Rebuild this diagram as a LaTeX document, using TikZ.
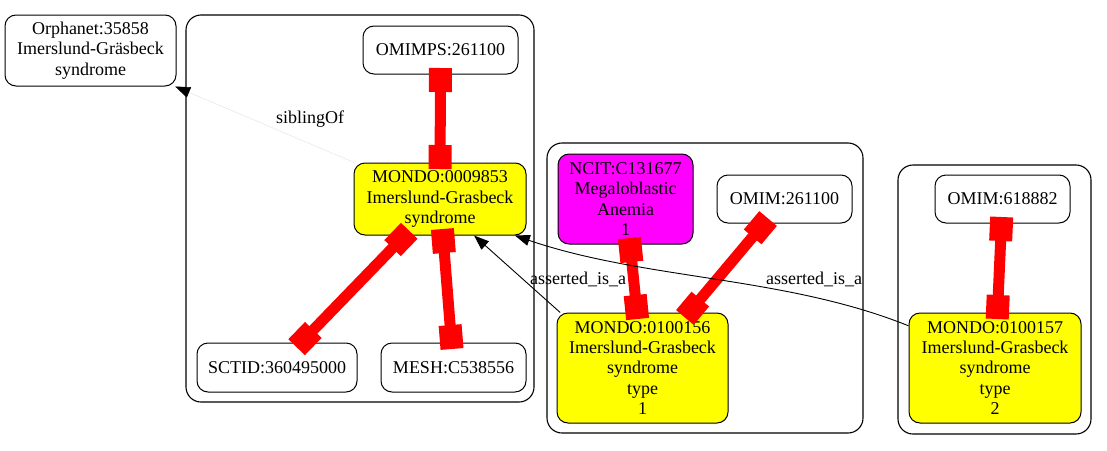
\documentclass[tikz,border=0pt]{standalone}
\usepackage{fontspec}
\setmainfont{Liberation Serif}
\usetikzlibrary{arrows.meta}
\definecolor{gvyellow}{RGB}{255,255,0}
\definecolor{gvmagenta}{RGB}{255,0,255}
\definecolor{gvred}{RGB}{255,0,0}
\newcommand\gvfont{\fontsize{18}{20.3}\selectfont}
\begin{document}
\begin{tikzpicture}[x=1pt,y=-1pt,
  gnode/.style={draw=black, line width=1pt, rounded corners=11pt, align=center,
    inner sep=0pt, font=\gvfont, fill=white},
  yel/.style={gnode, fill=gvyellow},
  mag/.style={gnode, fill=gvmagenta},
  cluster/.style={draw=black, line width=1.1pt, rounded corners=15pt, inner sep=0pt},
  redlink/.style={draw=gvred, line width=11pt,
    arrows={Square[length=24pt,width=23pt]-Square[length=24pt,width=23pt]},
    shorten <=-6.5pt, shorten >=-6.5pt},
  isa/.style={draw=black, line width=0.9pt, -{Triangle[length=15pt 0 0,width=11pt 0 0]}},
  sib/.style={draw=black!12, line width=0.4pt, -{Triangle[length=15pt 0 0,width=11pt 0 0,color=black]}},
  elabel/.style={font=\gvfont, inner sep=0pt}
]
\useasboundingbox (0,0) rectangle (1107,450);
% clusters
\node[cluster, minimum width=348pt, minimum height=387pt] (c1) at (360,208.5) {};
\node[cluster, minimum width=316pt, minimum height=290pt] (c2) at (705,288) {};
\node[cluster, minimum width=193pt, minimum height=269pt] (c3) at (994.5,299.5) {};
% nodes
\node[gnode, minimum width=171pt, minimum height=71pt] (orph) at (90.5,50.5) {Orphanet:35858\\Imerslund-Gräsbeck\\syndrome};
\node[gnode, minimum width=155pt, minimum height=48pt] (omimps) at (440.5,50) {OMIMPS:261100};
\node[yel, minimum width=172pt, minimum height=72pt] (m9853) at (440,199) {MONDO:0009853\\Imerslund-Grasbeck\\syndrome};
\node[gnode, minimum width=160pt, minimum height=49pt] (sctid) at (277,367.5) {SCTID:360495000};
\node[gnode, minimum width=145pt, minimum height=49pt] (mesh) at (453.5,367.5) {MESH:C538556};
\node[mag, minimum width=135pt, minimum height=90pt] (ncit) at (625.5,199) {NCIT:C131677\\Megaloblastic\\Anemia\\1};
\node[gnode, minimum width=135pt, minimum height=48pt] (omim1) at (784.5,199) {OMIM:261100};
\node[yel, minimum width=171pt, minimum height=110pt] (m156) at (642.5,368) {MONDO:0100156\\Imerslund-Grasbeck\\syndrome\\type\\1};
\node[gnode, minimum width=135pt, minimum height=48pt] (omim2) at (1002.5,199) {OMIM:618882};
\node[yel, minimum width=172pt, minimum height=110pt] (m157) at (995,368) {MONDO:0100157\\Imerslund-Grasbeck\\syndrome\\type\\2};
% red links
\draw[redlink] (omimps) -- (m9853);
\draw[redlink] (m9853) -- (sctid);
\draw[redlink] (m9853) -- (mesh);
\draw[redlink] (ncit) -- (m156);
\draw[redlink] (omim1) -- (m156);
\draw[redlink] (omim2) -- (m157);
% black edges
\draw[sib] (m9853) -- (orph);
\draw[isa] (m156.146) -- (m9853.-47);
\draw[isa] (m157.154.5) .. controls (785,276) and (645,280) .. (m9853.-26);
% labels
\node[elabel] (lsib) at (310,119) {siblingOf};
\node[elabel] (lisa1) at (578,279) {asserted\_is\_a};
\node[elabel] (lisa2) at (814,279) {asserted\_is\_a};
\end{tikzpicture}
\end{document}
